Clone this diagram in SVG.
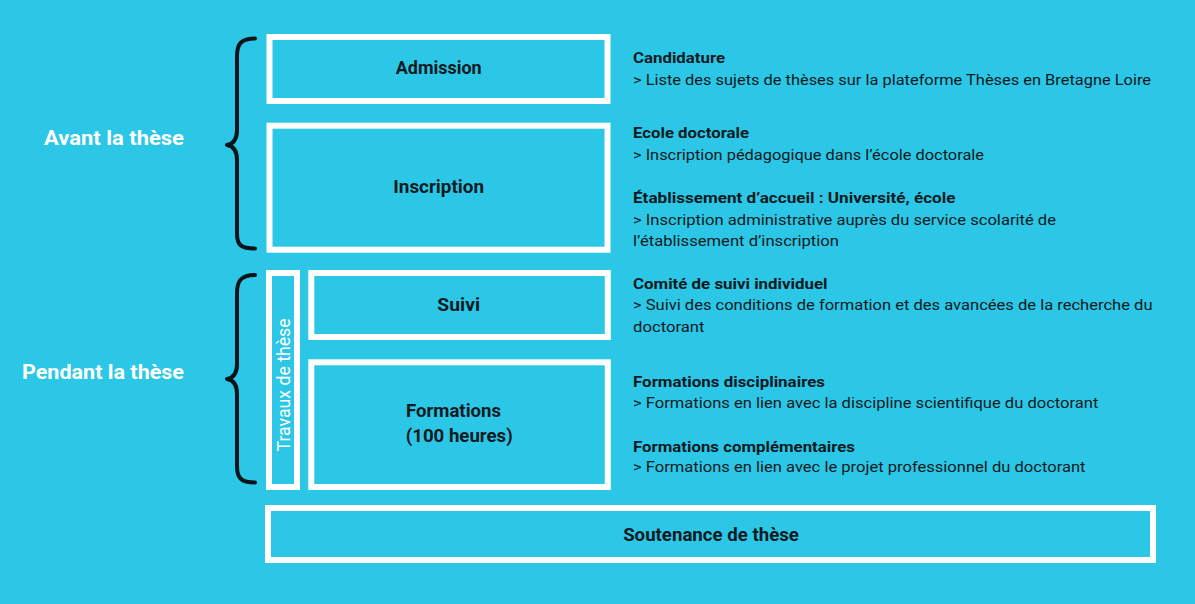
<svg xmlns="http://www.w3.org/2000/svg" width="1195" height="604" viewBox="0 0 1195 604">
<style>
.box{fill:none;stroke:#ffffff;stroke-width:6}
.brace{fill:none;stroke:#0b1419;stroke-width:4;stroke-linecap:round;stroke-linejoin:round}
.lbl{font-family:Roboto,"Liberation Sans",sans-serif;font-weight:bold;font-size:18px;fill:#0d1a22}
.side{font-family:Roboto,"Liberation Sans",sans-serif;font-weight:bold;font-size:20px;fill:#ffffff}
.h{font-family:Roboto,"Liberation Sans",sans-serif;font-weight:bold;font-size:15.5px;fill:#0d1a22}
.t{font-family:Roboto,"Liberation Sans",sans-serif;font-size:15.5px;fill:#0d1a22}
.vt{font-family:Roboto,"Liberation Sans",sans-serif;font-size:19px;fill:#ffffff}
</style>
<rect x="0" y="0" width="1195" height="604" fill="#2cc7e6"/>

<g id="connectors">
<path class="brace" d="M255,38.5 C241,38.5 237,44 237,56 L237,130 C237,139 233,144 227,145 C233,146 237,151 237,160 L237,234 C237,245 241,248.5 255,248.5"/>
<path class="brace" d="M255,275 C241,275 237,281 237,293 L237,364 C237,373 233,378 227,379 C233,380 237,385 237,394 L237,466 C237,478 241,482.5 255,482.5"/>
</g>

<g id="avant">
<text class="side" x="184" y="145" text-anchor="end" textLength="140" lengthAdjust="spacingAndGlyphs">Avant la thèse</text>
</g>
<g id="pendant">
<text class="side" x="184" y="379" text-anchor="end" textLength="162" lengthAdjust="spacingAndGlyphs">Pendant la thèse</text>
</g>

<g id="admission">
<rect class="box" x="269.5" y="37" width="338" height="64"/>
<text class="lbl" x="438.7" y="74" text-anchor="middle" textLength="86" lengthAdjust="spacingAndGlyphs">Admission</text>
</g>
<g id="inscription">
<rect class="box" x="269.5" y="125.7" width="338" height="124"/>
<text class="lbl" x="438.7" y="192.7" text-anchor="middle" textLength="90.7" lengthAdjust="spacingAndGlyphs">Inscription</text>
</g>
<g id="travaux">
<rect class="box" x="269" y="273" width="28" height="214"/>
<text class="vt" transform="translate(289.5,385) rotate(-90)" x="0" y="0" text-anchor="middle" textLength="133" lengthAdjust="spacingAndGlyphs">Travaux de thèse</text>
</g>
<g id="suivi">
<rect class="box" x="311.3" y="273" width="296.5" height="64"/>
<text class="lbl" x="458.7" y="310.7" text-anchor="middle" textLength="42.7" lengthAdjust="spacingAndGlyphs">Suivi</text>
</g>
<g id="formations">
<rect class="box" x="311.3" y="362.3" width="296.5" height="124.7"/>
<text class="lbl" x="406" y="417.3" textLength="95" lengthAdjust="spacingAndGlyphs">Formations</text>
<text class="lbl" x="405.7" y="441.7" textLength="107" lengthAdjust="spacingAndGlyphs">(100 heures)</text>
</g>
<g id="soutenance">
<rect class="box" x="268" y="508" width="885" height="52"/>
<text class="lbl" x="711" y="541" text-anchor="middle" textLength="175.7" lengthAdjust="spacingAndGlyphs">Soutenance de thèse</text>
</g>

<g id="desc-admission">
<text class="h" x="633" y="63.3" textLength="92" lengthAdjust="spacingAndGlyphs">Candidature</text>
<text class="t" x="633" y="85" textLength="518" lengthAdjust="spacingAndGlyphs">&gt; Liste des sujets de thèses sur la plateforme Thèses en Bretagne Loire</text>
</g>
<g id="desc-inscription">
<text class="h" x="633" y="138.3" textLength="116" lengthAdjust="spacingAndGlyphs">Ecole doctorale</text>
<text class="t" x="633" y="160" textLength="351" lengthAdjust="spacingAndGlyphs">&gt; Inscription pédagogique dans l’école doctorale</text>
<text class="h" x="633" y="203.3" textLength="322.5" lengthAdjust="spacingAndGlyphs">Établissement d’accueil : Université, école</text>
<text class="t" x="633" y="225" textLength="423" lengthAdjust="spacingAndGlyphs">&gt; Inscription administrative auprès du service scolarité de</text>
<text class="t" x="633" y="246" textLength="206" lengthAdjust="spacingAndGlyphs">l’établissement d’inscription</text>
</g>
<g id="desc-suivi">
<text class="h" x="633" y="289" textLength="194.5" lengthAdjust="spacingAndGlyphs">Comité de suivi individuel</text>
<text class="t" x="633" y="310" textLength="519.5" lengthAdjust="spacingAndGlyphs">&gt; Suivi des conditions de formation et des avancées de la recherche du</text>
<text class="t" x="633" y="331.7" textLength="71.5" lengthAdjust="spacingAndGlyphs">doctorant</text>
</g>
<g id="desc-formations">
<text class="h" x="633" y="386.7" textLength="192" lengthAdjust="spacingAndGlyphs">Formations disciplinaires</text>
<text class="t" x="633" y="408.3" textLength="465.4" lengthAdjust="spacingAndGlyphs">&gt; Formations en lien avec la discipline scientifique du doctorant</text>
<text class="h" x="633" y="451.7" textLength="222" lengthAdjust="spacingAndGlyphs">Formations complémentaires</text>
<text class="t" x="633" y="472.3" textLength="452.5" lengthAdjust="spacingAndGlyphs">&gt; Formations en lien avec le projet professionnel du doctorant</text>
</g>
</svg>
